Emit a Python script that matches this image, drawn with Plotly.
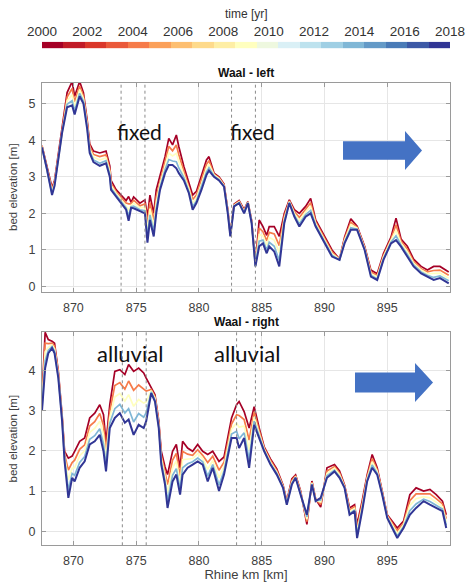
import plotly.graph_objects as go
from plotly.colors import diverging, make_colorscale, sample_colorscale

# ---------------- data ----------------
line_years = [2000, 2004, 2009, 2014, 2018]
cbar_years = list(range(2000, 2019))
cbar_ticks = [2000, 2002, 2004, 2006, 2008, 2010, 2012, 2014, 2016, 2018]
x_ticks = [870, 875, 880, 885, 890, 895]

left_km = [867.5, 867.9, 868.3, 868.5, 869.1, 869.5, 869.9, 870.1, 870.5, 870.8,
           871.1, 871.3, 871.6, 872.1, 872.6, 872.9, 873.0, 873.4, 873.8, 874.2,
           874.4, 874.6, 874.8, 875.3, 875.7, 875.9, 876.1, 876.4, 876.6, 876.9,
           877.3, 877.6, 877.9, 878.2, 878.4, 878.8, 879.2, 879.5, 879.8, 880.2,
           880.6, 880.8, 881.2, 881.6, 882.0, 882.3, 882.5, 882.8, 883.2, 883.6,
           883.9, 884.2, 884.5, 884.8, 885.1, 885.4, 885.6, 886.0, 886.4, 886.8,
           887.2, 887.6, 888.0, 888.5, 888.9, 889.3, 890.0, 890.6, 891.2, 891.6,
           892.1, 892.6, 893.2, 893.7, 894.2, 894.7, 895.3, 895.7, 896.1, 896.6,
           897.1, 897.7, 898.2, 898.7, 899.2, 899.9]
left_2000 = [3.85, 3.25, 2.7, 2.9, 4.3, 5.3, 5.6, 5.2, 5.6, 5.3,
             4.55, 3.9, 3.7, 3.65, 3.7, 3.3, 2.9, 2.65, 2.5, 2.35,
             2.46, 2.3, 2.45, 2.28, 2.37, 1.9, 2.5, 2.0, 2.64, 3.0,
             3.55, 4.05, 3.87, 4.14, 3.82, 3.28, 2.82, 2.5, 2.6, 3.0,
             3.46, 3.55, 3.1, 3.0, 2.8, 2.1, 1.45, 2.25, 2.35, 2.1,
             2.32, 1.8, 0.62, 1.82, 1.64, 1.4, 1.64, 1.64, 1.37, 2.0,
             2.37, 2.1, 2.0, 2.19, 2.41, 1.82, 1.37, 1.0, 0.75, 1.35,
             1.85, 1.65, 1.1, 0.45, 0.35, 0.9, 1.35, 1.87, 1.3, 1.1,
             0.75, 0.55, 0.45, 0.55, 0.55, 0.4]
left_2004 = [3.84, 3.24, 2.64, 2.86, 4.27, 5.18, 5.41, 5.05, 5.48, 5.21,
             4.48, 3.83, 3.61, 3.55, 3.6, 3.21, 2.82, 2.59, 2.43, 2.28,
             2.26, 2.26, 2.36, 2.21, 2.26, 1.69, 2.3, 1.81, 2.45, 2.89,
             3.42, 3.83, 3.71, 3.87, 3.6, 3.17, 2.74, 2.38, 2.5, 2.89,
             3.34, 3.44, 3.07, 2.97, 2.78, 2.07, 1.43, 2.23, 2.33, 2.07,
             2.31, 1.78, 0.6, 1.6, 1.5, 1.25, 1.48, 1.44, 1.12, 1.92,
             2.34, 2.04, 1.89, 2.11, 2.29, 1.77, 1.31, 0.95, 0.74, 1.3,
             1.76, 1.62, 1.07, 0.4, 0.3, 0.85, 1.3, 1.69, 1.24, 1.02,
             0.69, 0.49, 0.4, 0.44, 0.45, 0.31]
left_2009 = [3.82, 3.22, 2.59, 2.82, 4.25, 5.08, 5.24, 4.93, 5.38, 5.14,
             4.41, 3.76, 3.54, 3.46, 3.52, 3.14, 2.76, 2.55, 2.38, 2.21,
             2.1, 2.22, 2.28, 2.15, 2.17, 1.52, 2.13, 1.65, 2.29, 2.8,
             3.3, 3.65, 3.57, 3.64, 3.42, 3.07, 2.67, 2.28, 2.42, 2.8,
             3.23, 3.34, 3.05, 2.95, 2.76, 2.05, 1.41, 2.22, 2.31, 2.05,
             2.3, 1.76, 0.58, 1.42, 1.39, 1.13, 1.34, 1.27, 0.92, 1.85,
             2.32, 2.0, 1.8, 2.04, 2.18, 1.72, 1.27, 0.9, 0.74, 1.26,
             1.69, 1.6, 1.05, 0.35, 0.26, 0.81, 1.26, 1.54, 1.18, 0.95,
             0.64, 0.45, 0.35, 0.35, 0.37, 0.23]
left_2014 = [3.81, 3.21, 2.54, 2.78, 4.22, 4.98, 5.08, 4.8, 5.28, 5.06,
             4.35, 3.7, 3.46, 3.37, 3.44, 3.06, 2.69, 2.5, 2.32, 2.15,
             1.93, 2.18, 2.2, 2.1, 2.07, 1.34, 1.96, 1.5, 2.13, 2.71,
             3.19, 3.47, 3.43, 3.41, 3.24, 2.98, 2.6, 2.18, 2.34, 2.71,
             3.13, 3.25, 3.02, 2.92, 2.74, 2.02, 1.39, 2.2, 2.29, 2.02,
             2.29, 1.74, 0.56, 1.24, 1.27, 1.0, 1.21, 1.1, 0.71, 1.78,
             2.3, 1.95, 1.71, 1.97, 2.08, 1.68, 1.22, 0.86, 0.73, 1.21,
             1.61, 1.57, 1.02, 0.31, 0.21, 0.76, 1.21, 1.39, 1.13, 0.88,
             0.59, 0.4, 0.31, 0.25, 0.29, 0.16]
left_2018 = [3.8, 3.2, 2.5, 2.75, 4.2, 4.9, 4.95, 4.7, 5.2, 5.0,
             4.3, 3.65, 3.4, 3.3, 3.37, 3.0, 2.64, 2.46, 2.28, 2.1,
             1.8, 2.15, 2.14, 2.05, 2.0, 1.2, 1.82, 1.37, 2.0, 2.64,
             3.1, 3.32, 3.32, 3.23, 3.1, 2.9, 2.55, 2.1, 2.28, 2.64,
             3.05, 3.17, 3.0, 2.9, 2.73, 2.0, 1.37, 2.19, 2.28, 2.0,
             2.28, 1.73, 0.55, 1.1, 1.18, 0.91, 1.1, 0.96, 0.55, 1.73,
             2.28, 1.91, 1.64, 1.91, 2.0, 1.64, 1.18, 0.82, 0.73, 1.18,
             1.55, 1.55, 1.0, 0.27, 0.18, 0.73, 1.18, 1.27, 1.09, 0.82,
             0.55, 0.36, 0.27, 0.18, 0.23, 0.09]

right_km = [867.5, 867.75, 868.0, 868.3, 868.5, 868.8, 869.1, 869.3, 869.6, 869.9,
            870.1, 870.5, 870.9, 871.3, 871.7, 872.1, 872.4, 872.6, 872.9, 873.3,
            873.7, 874.1, 874.4, 874.8, 875.2, 875.6, 875.8, 876.2, 876.5, 876.8,
            877.0, 877.3, 877.5, 877.9, 878.2, 878.5, 878.7, 879.1, 879.5, 879.9,
            880.3, 880.7, 881.1, 881.6, 882.0, 882.6, 883.0, 883.2, 883.6, 884.0,
            884.4, 884.8, 885.2, 885.7, 886.2, 886.7, 887.0, 887.4, 887.7, 888.1,
            888.6, 889.0, 889.3, 889.7, 890.2, 890.8, 891.2, 891.6, 892.0, 892.4,
            892.6, 893.0, 893.4, 893.8, 894.2, 894.6, 895.0, 895.4, 895.8, 896.3,
            896.8, 897.3, 897.9, 898.4, 898.9, 899.4, 899.7]
right_2000 = [3.3, 4.95, 4.77, 4.73, 4.68, 3.98, 2.9, 1.99, 1.82, 1.87,
              1.99, 2.24, 2.32, 2.82, 2.94, 3.15, 2.9, 2.2, 3.15, 3.98,
              4.02, 3.9, 4.15, 3.98, 4.06, 3.94, 3.81, 3.57, 3.4, 2.75,
              1.99, 1.6, 1.41, 1.99, 2.16, 1.58, 2.24, 2.07, 1.99, 2.16,
              1.99, 1.91, 1.99, 1.74, 1.85, 2.82, 3.15, 3.23, 2.98, 2.57,
              3.1, 2.57, 2.1, 1.8, 1.55, 1.15, 0.75, 1.3, 1.4, 1.0,
              0.17, 1.25, 0.8, 0.6, 1.58, 1.66, 1.5, 1.15, 0.58, 0.66,
              0.17, 0.75, 1.4, 1.91, 1.58, 1.0, 0.41, 0.25, 0.08, 0.25,
              0.91, 1.08, 1.0, 1.04, 0.91, 0.75, 0.41]
right_2004 = [3.21, 4.68, 4.67, 4.68, 4.61, 3.93, 2.85, 1.92, 1.52, 1.71,
              1.77, 2.04, 2.15, 2.62, 2.73, 2.93, 2.63, 1.99, 2.98, 3.63,
              3.7, 3.54, 3.74, 3.51, 3.64, 3.53, 3.49, 3.53, 3.35, 2.7,
              1.89, 1.47, 1.16, 1.77, 1.94, 1.38, 1.99, 1.92, 1.89, 2.03,
              1.89, 1.71, 1.87, 1.52, 1.72, 2.67, 2.9, 2.88, 2.78, 2.27,
              2.97, 2.5, 2.07, 1.76, 1.51, 1.13, 0.72, 1.26, 1.38, 0.97,
              0.24, 1.22, 0.79, 0.67, 1.5, 1.61, 1.45, 1.13, 0.53, 0.61,
              0.07, 0.68, 1.35, 1.81, 1.53, 0.97, 0.39, 0.2, 0.01, 0.2,
              0.76, 0.93, 0.93, 0.93, 0.81, 0.68, 0.31]
right_2009 = [3.14, 4.46, 4.58, 4.64, 4.54, 3.89, 2.81, 1.85, 1.28, 1.57,
              1.58, 1.88, 2.0, 2.46, 2.56, 2.74, 2.4, 1.81, 2.83, 3.34,
              3.43, 3.24, 3.4, 3.11, 3.28, 3.19, 3.22, 3.5, 3.31, 2.65,
              1.81, 1.36, 0.95, 1.58, 1.75, 1.21, 1.78, 1.8, 1.81, 1.93,
              1.81, 1.54, 1.76, 1.33, 1.61, 2.55, 2.69, 2.59, 2.62, 2.03,
              2.85, 2.43, 2.04, 1.72, 1.47, 1.11, 0.7, 1.22, 1.36, 0.95,
              0.3, 1.2, 0.77, 0.73, 1.44, 1.57, 1.41, 1.11, 0.49, 0.57,
              -0.02, 0.61, 1.31, 1.73, 1.49, 0.95, 0.37, 0.16, -0.06, 0.16,
              0.64, 0.81, 0.86, 0.83, 0.73, 0.61, 0.23]
right_2014 = [3.06, 4.24, 4.5, 4.6, 4.48, 3.84, 2.77, 1.79, 1.03, 1.44,
              1.39, 1.71, 1.86, 2.29, 2.38, 2.55, 2.17, 1.63, 2.69, 3.05,
              3.16, 2.94, 3.05, 2.72, 2.93, 2.84, 2.95, 3.47, 3.26, 2.61,
              1.73, 1.25, 0.75, 1.39, 1.56, 1.04, 1.58, 1.68, 1.73, 1.82,
              1.73, 1.37, 1.66, 1.15, 1.5, 2.42, 2.49, 2.3, 2.45, 1.78,
              2.74, 2.37, 2.01, 1.69, 1.44, 1.09, 0.68, 1.19, 1.34, 0.93,
              0.36, 1.18, 0.76, 0.78, 1.38, 1.52, 1.36, 1.09, 0.44, 0.53,
              -0.1, 0.55, 1.27, 1.65, 1.44, 0.93, 0.35, 0.11, -0.12, 0.11,
              0.51, 0.68, 0.8, 0.74, 0.65, 0.55, 0.15]
right_2018 = [3.0, 4.06, 4.43, 4.56, 4.43, 3.81, 2.74, 1.74, 0.83, 1.33,
              1.24, 1.58, 1.74, 2.16, 2.24, 2.4, 1.99, 1.49, 2.57, 2.82,
              2.94, 2.7, 2.78, 2.4, 2.65, 2.57, 2.74, 3.44, 3.23, 2.57,
              1.66, 1.16, 0.58, 1.24, 1.41, 0.91, 1.41, 1.58, 1.66, 1.74,
              1.66, 1.24, 1.58, 1.0, 1.41, 2.32, 2.32, 2.07, 2.32, 1.58,
              2.65, 2.32, 1.99, 1.66, 1.41, 1.08, 0.66, 1.16, 1.33, 0.91,
              0.41, 1.16, 0.75, 0.83, 1.33, 1.49, 1.33, 1.08, 0.41, 0.5,
              -0.17, 0.5, 1.24, 1.58, 1.41, 0.91, 0.33, 0.08, -0.17, 0.08,
              0.41, 0.58, 0.75, 0.66, 0.58, 0.5, 0.08]

left_bounds_km = [873.8, 875.7, 882.6, 884.5]
right_bounds_km = [873.9, 875.8, 883.0, 884.5]

left_series = [left_2000, left_2004, left_2009, left_2014, left_2018]
right_series = [right_2000, right_2004, right_2009, right_2014, right_2018]

# ---------------- styling helpers ----------------
W, H = 466, 582
def px(x):
    return x / W
def py(y):
    return 1 - y / H

cols = sample_colorscale(make_colorscale(diverging.RdYlBu),
                         [i / 18 for i in range(19)])
year_color = dict(zip(cbar_years, cols))
cscale = [[(yr - 2000) / 18, year_color[yr]] for yr in cbar_years]

fig = go.Figure()

for yr, ys in zip(line_years, left_series):
    fig.add_trace(go.Scatter(x=left_km, y=ys, mode="lines", xaxis="x", yaxis="y",
                             line=dict(color=year_color[yr], width=2 if yr == 2018 else 1.7),
                             showlegend=False, hoverinfo="skip"))
for yr, ys in zip(line_years, right_series):
    fig.add_trace(go.Scatter(x=right_km, y=ys, mode="lines", xaxis="x2", yaxis="y2",
                             line=dict(color=year_color[yr], width=2 if yr == 2018 else 1.7),
                             showlegend=False, hoverinfo="skip"))

# colour bar as a heatmap strip
n = len(cbar_years)
edges = [2000 + i * 18 / n for i in range(n + 1)]
fig.add_trace(go.Heatmap(z=[cbar_years], x=edges, xaxis="x3", yaxis="y3",
                         colorscale=cscale, zmin=2000, zmax=2018, showscale=False,
                         hoverinfo="skip"))

tick_font = dict(family="Liberation Sans, Arial, sans-serif", size=12.5, color="#404040")
axis_common = dict(showline=True, linecolor="#9a9a9a", linewidth=1, mirror="ticks",
                   ticks="inside", ticklen=4, tickcolor="#9a9a9a",
                   showgrid=True, gridcolor="#e6e6e6", gridwidth=1, zeroline=False,
                   tickfont=tick_font, automargin=False)
xdom = [px(42), px(450)]
ytitle_font = dict(family="Liberation Sans, Arial", size=11.5, color="#404040")

fig.update_layout(
    width=W, height=H, margin=dict(l=0, r=0, t=0, b=0, autoexpand=False),
    paper_bgcolor="white", plot_bgcolor="white",
    xaxis=dict(domain=xdom, anchor="y", range=[867.5, 900], tickvals=x_ticks,
               ticklabelstandoff=4, **axis_common),
    yaxis=dict(domain=[py(291.7), py(82.7)], anchor="x", range=[-0.14, 5.57],
               tickvals=[0, 1, 2, 3, 4, 5], ticklabelstandoff=3,
               title=dict(text="bed elevation [m]", standoff=8, font=ytitle_font),
               **axis_common),
    xaxis2=dict(domain=xdom, anchor="y2", range=[867.5, 900], tickvals=x_ticks,
                ticklabelstandoff=4,
                title=dict(text="Rhine km [km]", standoff=7,
                           font=dict(family="Liberation Sans, Arial", size=13, color="#404040")),
                **axis_common),
    yaxis2=dict(domain=[py(545.3), py(332)], anchor="x2", range=[-0.35, 4.96],
                tickvals=[0, 1, 2, 3, 4], ticklabelstandoff=3,
                title=dict(text="bed elevation [m]", standoff=8, font=ytitle_font),
                **axis_common),
    xaxis3=dict(domain=xdom, anchor="y3", range=[2000, 2018], side="top",
                tickvals=cbar_ticks, ticks="", showgrid=False, showline=False,
                zeroline=False, automargin=False,
                tickfont=dict(family="Liberation Sans, Arial", size=13.5, color="#333333"),
                ticklabelstandoff=2),
    yaxis3=dict(domain=[py(48.3), py(41.7)], anchor="x3", visible=False, range=[-0.5, 0.5]),
)

shapes = []
for k in left_bounds_km:
    shapes.append(dict(type="line", xref="x", yref="y domain", x0=k, x1=k, y0=0, y1=1,
                       line=dict(color="#8a8a8a", width=1, dash="dot")))
for k in right_bounds_km:
    shapes.append(dict(type="line", xref="x2", yref="y2 domain", x0=k, x1=k, y0=0, y1=1,
                       line=dict(color="#8a8a8a", width=1, dash="dot")))

def block_arrow(x0, x1, xt, yc, bh, hh):
    pts = [(x0, yc - bh), (x1, yc - bh), (x1, yc - hh), (xt, yc), (x1, yc + hh),
           (x1, yc + bh), (x0, yc + bh)]
    path = "M " + " L ".join(f"{px(a):.4f},{py(b):.4f}" for a, b in pts) + " Z"
    return dict(type="path", xref="paper", yref="paper", path=path,
                fillcolor="#4472C4", line=dict(color="#4472C4", width=0))

shapes.append(block_arrow(343, 405, 422, 150.5, 9.2, 19.5))
shapes.append(block_arrow(355, 415, 433, 382.5, 10, 19.5))
fig.update_layout(shapes=shapes)

ann = []
def note(text, x, y, size, family="Lato, sans-serif", color="#111111", bold=False):
    t = f"<b>{text}</b>" if bold else text
    ann.append(dict(text=t, x=px(x), y=py(y), xref="paper", yref="paper",
                    xanchor="center", yanchor="middle", showarrow=False,
                    font=dict(family=family, size=size, color=color)))

note("time [yr]", 246, 14, 12, family="Liberation Sans, Arial", color="#333333")
note("Waal - left", 246, 73, 12, family="Liberation Sans, Arial", bold=True)
note("Waal - right", 246, 322, 12, family="Liberation Sans, Arial", bold=True)
note("fixed", 139, 131, 21)
note("fixed", 252.5, 131, 21)
note("alluvial", 130, 353, 22)
note("alluvial", 246.5, 353, 22)
fig.update_layout(annotations=ann)

fig.write_html("out.html", config={"displayModeBar": False},
               post_script="document.body.style.margin='0';document.body.style.padding='0';")
